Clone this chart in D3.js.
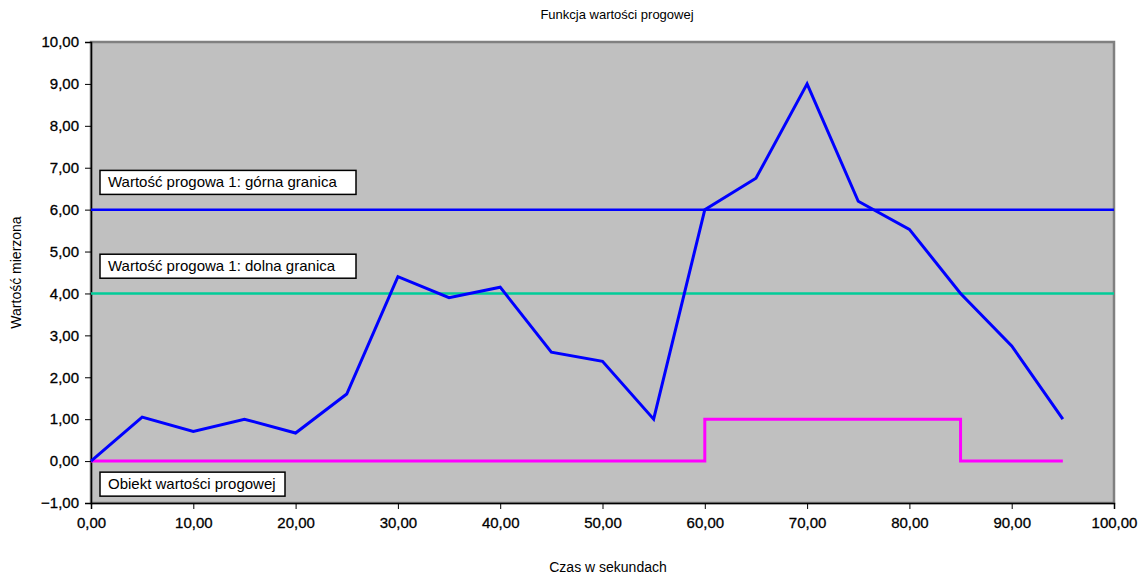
<!DOCTYPE html>
<html>
<head>
<meta charset="utf-8">
<script src="https://cdn.jsdelivr.net/npm/d3@7"></script>
<style>
  body { margin: 0; background: #fff; }
  text { font-family: "Liberation Sans", Arial, sans-serif; fill: #000; }
</style>
</head>
<body>
<div id="chart"></div>
<script>
// measured values (seconds / value)
var czas = [0, 5, 10, 15, 20, 25, 30, 35, 40, 45, 50, 55, 60, 65, 70, 75, 80, 85, 90, 95];
var wartosc = [0, 1.05, 0.71, 1.0, 0.67, 1.6, 4.4, 3.9, 4.15, 2.6, 2.38, 1.0, 6.0, 6.75, 9.0, 6.2, 5.53, 4.0, 2.75, 1.0];
// threshold object (step)
var obiektX = [0, 60, 60, 85, 85, 95];
var obiektY = [0, 0, 1, 1, 0, 0];
var gornaGranica = 6;
var dolnaGranica = 4;
var xTicks = d3.range(0, 101, 10);
var yTicks = d3.range(-1, 11, 1);

var width = 1142, height = 576;
var margin = {left: 91, right: 28, top: 42, bottom: 73};
var fmt = v => d3.format(".2f")(v).replace(".", ",");

var svg = d3.select("#chart").append("svg")
  .attr("width", width)
  .attr("height", height);

var x = d3.scaleLinear().domain([0, 100]).range([margin.left, width - margin.right]);
var y = d3.scaleLinear().domain([-1, 10]).range([height - margin.bottom, margin.top]);

// plot area
svg.append("rect")
  .attr("x", x(0)).attr("y", y(10))
  .attr("width", x(100) - x(0)).attr("height", y(-1) - y(10))
  .attr("fill", "#c0c0c0")
  .attr("stroke", "#808080")
  .attr("stroke-width", 2.5);

// axes
var xAxis = svg.append("g")
  .attr("transform", "translate(0," + y(-1) + ")")
  .call(d3.axisBottom(x).tickValues(xTicks).tickFormat(fmt).tickSize(6).tickPadding(8));
var yAxis = svg.append("g")
  .attr("transform", "translate(" + x(0) + ",0)")
  .call(d3.axisLeft(y).tickValues(yTicks).tickFormat(fmt).tickSize(6).tickPadding(6));
[xAxis, yAxis].forEach(a => {
  a.select(".domain").attr("stroke", "#000").attr("stroke-width", 1.5);
  a.selectAll(".tick line").attr("stroke", "#000");
  a.selectAll(".tick text")
    .attr("font-size", 15)
    .attr("font-family", "Liberation Sans, Arial, sans-serif")
    .attr("fill", "#000")
    .attr("stroke", "#000")
    .attr("stroke-width", 0.3);
});

// threshold lines
svg.append("line")
  .attr("x1", x(0)).attr("x2", x(100))
  .attr("y1", y(gornaGranica)).attr("y2", y(gornaGranica))
  .attr("stroke", "#0000ff").attr("stroke-width", 2.5);
svg.append("line")
  .attr("x1", x(0)).attr("x2", x(100))
  .attr("y1", y(dolnaGranica)).attr("y2", y(dolnaGranica))
  .attr("stroke", "#00cc99").attr("stroke-width", 2.5);

var line = d3.line().x(d => x(d[0])).y(d => y(d[1]));

svg.append("path")
  .datum(d3.zip(obiektX, obiektY))
  .attr("d", line)
  .attr("fill", "none")
  .attr("stroke", "#ff00ff")
  .attr("stroke-width", 3);

svg.append("path")
  .datum(d3.zip(czas, wartosc))
  .attr("d", line)
  .attr("fill", "none")
  .attr("stroke", "#0000ff")
  .attr("stroke-width", 3)
  .attr("stroke-linejoin", "miter");

// label boxes
var labels = [
  {t: "Wartość progowa 1: górna granica", v: 6.65, w: 256},
  {t: "Wartość progowa 1: dolna granica", v: 4.65, w: 256},
  {t: "Obiekt wartości progowej", v: -0.55, w: 185}
];
var lg = svg.selectAll(".lbl").data(labels).enter().append("g")
  .attr("class", "lbl")
  .attr("transform", d => "translate(" + (x(0) + 9) + "," + y(d.v) + ")");
lg.append("rect")
  .attr("x", 0).attr("y", -12)
  .attr("width", d => d.w).attr("height", 24)
  .attr("fill", "#fff").attr("stroke", "#000").attr("stroke-width", 1.5);
lg.append("text")
  .attr("x", 8).attr("y", 5)
  .attr("font-size", 15)
  .text(d => d.t);

// titles
svg.append("text")
  .attr("x", 617).attr("y", 19)
  .attr("text-anchor", "middle")
  .attr("font-size", 13)
  .text("Funkcja wartości progowej");
svg.append("text")
  .attr("x", 608).attr("y", 572)
  .attr("text-anchor", "middle")
  .attr("font-size", 14)
  .text("Czas w sekundach");
svg.append("text")
  .attr("transform", "translate(21," + y(4.5) + ") rotate(-90)")
  .attr("text-anchor", "middle")
  .attr("font-size", 14)
  .text("Wartość mierzona");
</script>
</body>
</html>
